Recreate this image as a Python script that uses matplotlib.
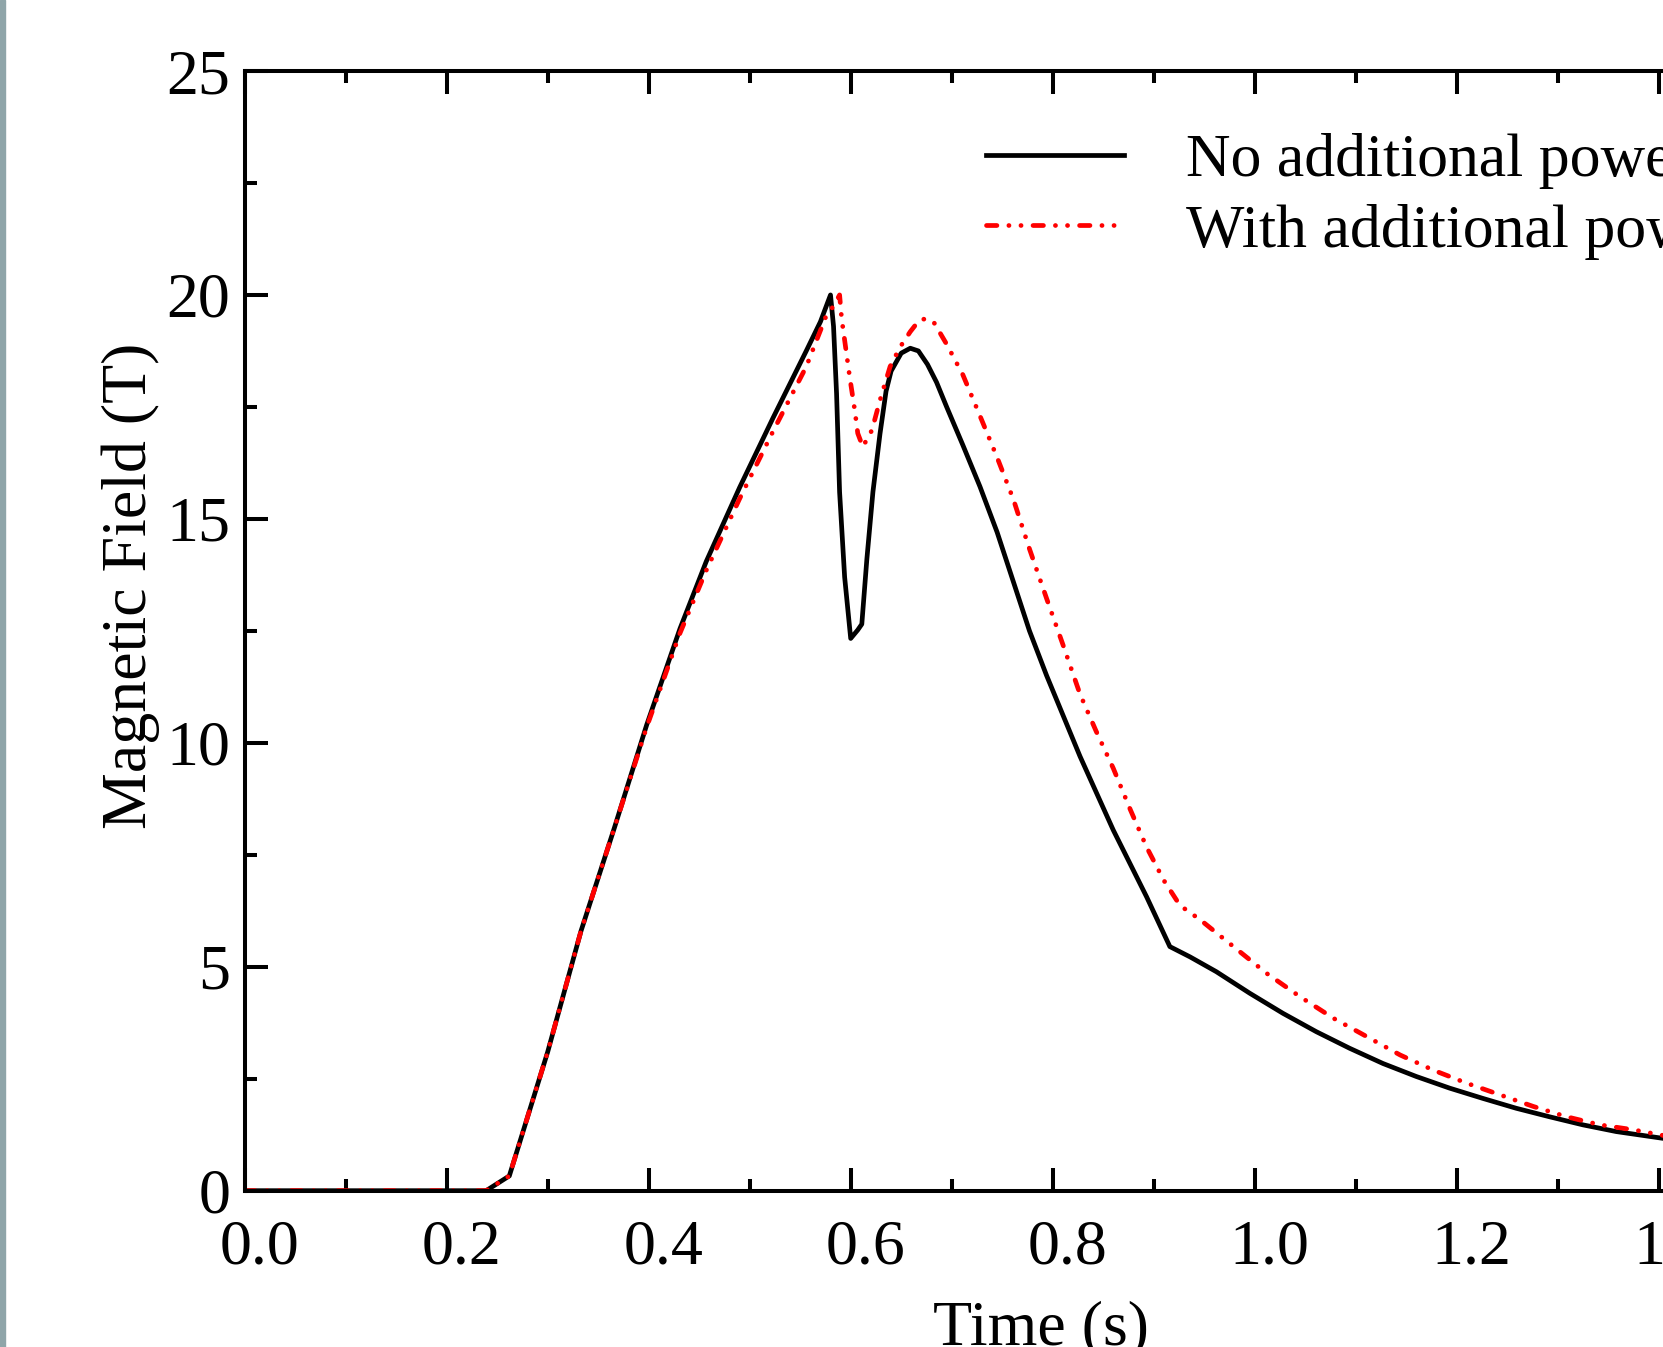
import numpy as np
import matplotlib
matplotlib.use("Agg")
import matplotlib.pyplot as plt
import matplotlib.transforms as mtrans
from matplotlib.patches import Rectangle

# values
t_no_power = [0.000, 0.239, 0.262, 0.300, 0.333, 0.366, 0.398, 0.431, 0.457, 0.490,
              0.523, 0.556, 0.570, 0.580, 0.583, 0.586, 0.589, 0.594, 0.600, 0.607,
              0.611, 0.616, 0.622, 0.629, 0.635, 0.640, 0.650, 0.659, 0.667, 0.676,
              0.685, 0.695, 0.711, 0.728, 0.745, 0.761, 0.777, 0.794, 0.827, 0.860,
              0.893, 0.916, 0.936, 0.962, 0.995, 1.028, 1.061, 1.094, 1.127, 1.160,
              1.193, 1.226, 1.259, 1.292, 1.325, 1.358, 1.410]
b_no_power = [0.00, 0.00, 0.33, 3.10, 5.80, 8.10, 10.40, 12.55, 14.05, 15.70,
              17.25, 18.75, 19.40, 20.00, 19.30, 17.80, 15.60, 13.70, 12.33, 12.52,
              12.65, 14.10, 15.60, 16.90, 17.85, 18.30, 18.70, 18.81, 18.75, 18.45,
              18.05, 17.50, 16.65, 15.72, 14.70, 13.60, 12.50, 11.50, 9.70, 8.05,
              6.56, 5.45, 5.22, 4.89, 4.41, 3.96, 3.55, 3.18, 2.84, 2.55,
              2.29, 2.06, 1.84, 1.65, 1.47, 1.32, 1.15]

t_with_power = [0.000, 0.239, 0.262, 0.300, 0.333, 0.366, 0.398, 0.431, 0.457, 0.490,
                0.523, 0.556, 0.576, 0.583, 0.589, 0.591, 0.599, 0.604, 0.607, 0.612,
                0.621, 0.629, 0.639, 0.649, 0.659, 0.668, 0.675, 0.682, 0.695, 0.711,
                0.728, 0.745, 0.761, 0.777, 0.794, 0.810, 0.827, 0.843, 0.860, 0.877,
                0.893, 0.910, 0.926, 0.946, 0.979, 1.012, 1.045, 1.078, 1.111, 1.144,
                1.177, 1.210, 1.243, 1.276, 1.309, 1.342, 1.375, 1.410]
b_with_power = [0.00, 0.00, 0.33, 3.10, 5.80, 8.10, 10.35, 12.45, 13.85, 15.45,
                16.95, 18.40, 19.55, 19.75, 20.00, 19.48, 18.17, 17.43, 16.91, 16.61,
                16.98, 17.65, 18.40, 18.84, 19.18, 19.44, 19.47, 19.40, 18.90, 18.22,
                17.30, 16.37, 15.44, 14.33, 13.22, 12.20, 11.09, 10.26, 9.43, 8.50,
                7.67, 6.93, 6.37, 6.05, 5.45, 4.85, 4.33, 3.85, 3.44, 3.03,
                2.69, 2.40, 2.14, 1.88, 1.65, 1.47, 1.36, 1.21]

x_ticks = [0.0, 0.2, 0.4, 0.6, 0.8, 1.0, 1.2, 1.4, 1.6]
y_ticks = [0, 5, 10, 15, 20, 25]

plt.rcParams['font.family'] = ['Liberation Serif', 'DejaVu Serif']
plt.rcParams['lines.scale_dashes'] = False
fs = 46

W, H = 1663, 1347
fig = plt.figure(figsize=(W / 100, H / 100), dpi=100)

# axes frame in pixels: left 245, top 71, bottom 1191, 1010 px per second
left, top, bottom = 244.7, 71.0, 1190.7
px_per_s = 1010.0
ax = fig.add_axes([left / W, (H - bottom) / H, 1.6 * px_per_s / W, (bottom - top) / H])

ax.plot(t_no_power, b_no_power, color="black", lw=3.4, solid_joinstyle="round",
        label="No additional power")
ax.plot(t_with_power, b_with_power, color="red", lw=3.4, dash_capstyle="round",
        dash_joinstyle="round", dashes=(7.5, 8.6, 0.1, 8.6, 0.1, 8.6),
        label="With additional power")

ax.set_xlim(0, 1.6)
ax.set_ylim(0, 25)
ax.set_xticks(x_ticks)
ax.set_xticklabels([f"{v:.1f}" for v in x_ticks])
ax.set_yticks(y_ticks)
ax.set_xticks(np.arange(0.1, 1.6, 0.2), minor=True)
ax.set_yticks(np.arange(2.5, 25, 5), minor=True)

for s in ax.spines.values():
    s.set_linewidth(2.9)
ax.tick_params(which='both', direction='in', top=True, right=True, width=2.9,
               labelsize=fs)
ax.tick_params(which='major', length=16.5)
ax.tick_params(which='minor', length=8.6)
ax.tick_params(axis='y', pad=10.5)
ax.tick_params(axis='x', pad=21)

# x tick labels sit a little right of their ticks in the reference
shift = mtrans.ScaledTranslation(10.5 / 72, 0, fig.dpi_scale_trans)
for lab in ax.get_xticklabels():
    lab.set_transform(lab.get_transform() + shift)

ax.set_xlabel("Time (s)", fontsize=fs)
ax.set_ylabel("Magnetic Field (T)", fontsize=fs)
ax.xaxis.set_label_coords(0.4928, -0.098)
ax.yaxis.set_label_coords(-0.0525, 0.54)

ax.legend(loc="upper left", bbox_to_anchor=(986 / W, (H - 133) / H),
          bbox_transform=fig.transFigure, frameon=False, fontsize=44.5,
          handlelength=2.23, handletextpad=1.0, labelspacing=0.23,
          borderpad=0, borderaxespad=0)

# grey strip at the left edge of the picture
fig.patches.append(Rectangle((0, 0), 5 / W, 1, transform=fig.transFigure,
                             color="#8fa5a9", zorder=10))

fig.savefig("out.png", dpi=100)
